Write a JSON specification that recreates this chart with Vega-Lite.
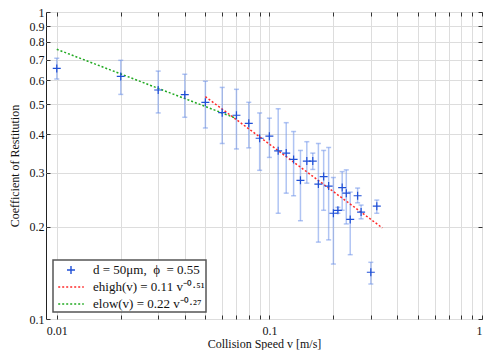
{
  "$schema": "https://vega.github.io/schema/vega-lite/v6.json",
  "width": 436,
  "height": 307,
  "autosize": {"type": "none"},
  "padding": {"left": 46, "top": 12, "right": 18, "bottom": 31},
  "background": "white",
  "config": {
    "font": "Liberation Serif, Times New Roman, serif",
    "view": {"stroke": "#222222", "strokeWidth": 1},
    "axis": {
      "grid": true,
      "gridColor": "#dddddd",
      "gridWidth": 1,
      "domain": false,
      "ticks": true,
      "tickColor": "#333333",
      "tickSize": -4,
      "labelFont": "Liberation Serif, Times New Roman, serif",
      "labelFontSize": 12,
      "labelColor": "#111111",
      "titleFont": "Liberation Serif, Times New Roman, serif",
      "titleFontSize": 12,
      "titleFontWeight": "normal",
      "titleColor": "#111111"
    },
    "legend": {
      "orient": "bottom-left",
      "offset": 7,
      "title": null,
      "strokeColor": "#555555",
      "strokeWidth": 1.5,
      "fillColor": "white",
      "padding": 1,
      "symbolSize": 256,
      "symbolStrokeWidth": 1.4,
      "symbolOffset": 8,
      "labelFont": "Liberation Serif, Times New Roman, serif",
      "labelFontSize": 13,
      "labelColor": "#111111",
      "rowPadding": 1,
      "labelOffset": 13
    }
  },
  "datasets": {
    "pts": [
      {"v": 0.01, "e": 0.655, "lo": 0.605, "hi": 0.707, "series": "data"},
      {"v": 0.02, "e": 0.617, "lo": 0.539, "hi": 0.696, "series": "data"},
      {"v": 0.03, "e": 0.557, "lo": 0.469, "hi": 0.642, "series": "data"},
      {"v": 0.04, "e": 0.538, "lo": 0.454, "hi": 0.627, "series": "data"},
      {"v": 0.05, "e": 0.508, "lo": 0.419, "hi": 0.595, "series": "data"},
      {"v": 0.06, "e": 0.470, "lo": 0.373, "hi": 0.568, "series": "data"},
      {"v": 0.07, "e": 0.461, "lo": 0.358, "hi": 0.560, "series": "data"},
      {"v": 0.08, "e": 0.434, "lo": 0.361, "hi": 0.508, "series": "data"},
      {"v": 0.09, "e": 0.388, "lo": 0.305, "hi": 0.469, "series": "data"},
      {"v": 0.10, "e": 0.394, "lo": 0.336, "hi": 0.451, "series": "data"},
      {"v": 0.11, "e": 0.353, "lo": 0.221, "hi": 0.484, "series": "data"},
      {"v": 0.12, "e": 0.347, "lo": 0.257, "hi": 0.436, "series": "data"},
      {"v": 0.13, "e": 0.331, "lo": 0.252, "hi": 0.408, "series": "data"},
      {"v": 0.14, "e": 0.283, "lo": 0.209, "hi": 0.354, "series": "data"},
      {"v": 0.15, "e": 0.327, "lo": 0.277, "hi": 0.378, "series": "data"},
      {"v": 0.16, "e": 0.327, "lo": 0.307, "hi": 0.347, "series": "data"},
      {"v": 0.17, "e": 0.275, "lo": 0.178, "hi": 0.373, "series": "data"},
      {"v": 0.18, "e": 0.291, "lo": 0.226, "hi": 0.354, "series": "data"},
      {"v": 0.19, "e": 0.271, "lo": 0.181, "hi": 0.362, "series": "data"},
      {"v": 0.20, "e": 0.221, "lo": 0.151, "hi": 0.289, "series": "data"},
      {"v": 0.21, "e": 0.226, "lo": 0.221, "hi": 0.231, "series": "data"},
      {"v": 0.22, "e": 0.268, "lo": 0.226, "hi": 0.302, "series": "data"},
      {"v": 0.23, "e": 0.257, "lo": 0.204, "hi": 0.306, "series": "data"},
      {"v": 0.24, "e": 0.211, "lo": 0.162, "hi": 0.259, "series": "data"},
      {"v": 0.26, "e": 0.252, "lo": 0.239, "hi": 0.267, "series": "data"},
      {"v": 0.27, "e": 0.223, "lo": 0.212, "hi": 0.235, "series": "data"},
      {"v": 0.30, "e": 0.142, "lo": 0.130, "hi": 0.153, "series": "data"},
      {"v": 0.32, "e": 0.233, "lo": 0.221, "hi": 0.244, "series": "data"}
    ],
    "fits": [
      {"v": 0.05, "e": 0.53, "series": "high"},
      {"v": 0.34, "e": 0.198, "series": "high"},
      {"v": 0.01, "e": 0.756, "series": "low"},
      {"v": 0.07, "e": 0.45, "series": "low"}
    ]
  },
  "resolve": {"axis": {"x": "independent", "y": "independent"}},
  "layer": [
    {
      "layer": [
        {
          "data": {"name": "pts"},
          "mark": {"type": "errorbar", "ticks": {"size": 5}, "color": "#6f93ea", "opacity": 0.55, "thickness": 1.5},
          "encoding": {
            "x": {"field": "v", "type": "quantitative"},
            "y": {"field": "lo", "type": "quantitative", "title": "Coefficient of Restitution"},
            "y2": {"field": "hi"}
          }
        },
        {
          "data": {"name": "fits"},
          "mark": {"type": "line", "strokeWidth": 1.5},
          "encoding": {
            "x": {"field": "v", "type": "quantitative"},
            "y": {"field": "e", "type": "quantitative", "title": "Coefficient of Restitution"},
            "color": {"field": "series", "type": "nominal"},
            "strokeDash": {"field": "series", "type": "nominal"}
          }
        },
        {
          "data": {"name": "pts"},
          "mark": {"type": "point", "filled": false, "size": 256, "strokeWidth": 1.2, "opacity": 1},
          "encoding": {
            "x": {
              "field": "v", "type": "quantitative",
              "scale": {"type": "log", "domain": [0.0089, 1], "nice": false},
              "axis": {
                "values": [0.01,0.02,0.03,0.04,0.05,0.06,0.07,0.08,0.09,0.1,0.2,0.3,0.4,0.5,0.6,0.7,0.8,0.9,1],
                "labelExpr": "datum.value == 0.01 ? '0.01' : (datum.value == 0.1 ? '0.1' : (datum.value == 1 ? '1' : ''))",
                "title": "Collision Speed v [m/s]",
                "labelPadding": 10,
                "titlePadding": 2
              }
            },
            "y": {
              "field": "e", "type": "quantitative",
              "scale": {"type": "log", "domain": [0.1, 1], "nice": false},
              "axis": {
                "values": [0.1,0.2,0.3,0.4,0.5,0.6,0.7,0.8,0.9,1],
                "format": "~g",
                "title": "Coefficient of Restitution",
                "labelPadding": 6,
                "titlePadding": 8
              }
            },
            "color": {
              "field": "series", "type": "nominal",
              "scale": {"domain": ["data", "high", "low"], "range": ["#1f4fd6", "#ff2a2a", "#22aa22"]},
              "legend": {
                "labelExpr": "datum.value == 'data' ? 'd = 50μm,\u00a0 ϕ\u00a0 = 0.55\u00a0\u00a0\u00a0\u00a0\u00a0\u00a0\u00a0' : (datum.value == 'high' ? 'ehigh(v) = 0.11 v⁻⁰·⁵¹' : 'elow(v) = 0.22 v⁻⁰·²⁷')"
              }
            },
            "shape": {
              "field": "series", "type": "nominal",
              "scale": {"domain": ["data", "high", "low"], "range": ["M-0.5,0H0.5M0,-0.5V0.5", "M-1.6,0H1.6", "M-1.6,0H1.6"]}
            },
            "strokeDash": {
              "field": "series", "type": "nominal",
              "scale": {"domain": ["data", "high", "low"], "range": [[1, 0], [2, 2], [2, 2]]}
            }
          }
        }
      ]
    },
    {
      "data": {"name": "fits"},
      "mark": {"type": "point", "opacity": 0},
      "encoding": {
        "x": {
          "field": "v", "type": "quantitative",
          "axis": {
            "orient": "top",
            "values": [0.01,0.02,0.03,0.04,0.05,0.06,0.07,0.08,0.09,0.1,0.2,0.3,0.4,0.5,0.6,0.7,0.8,0.9,1],
            "labels": false, "title": null, "grid": false
          }
        },
        "y": {
          "field": "e", "type": "quantitative",
          "axis": {
            "orient": "right",
            "values": [0.1,0.2,0.3,0.4,0.5,0.6,0.7,0.8,0.9,1],
            "labels": false, "title": null, "grid": false
          }
        }
      }
    }
  ]
}
